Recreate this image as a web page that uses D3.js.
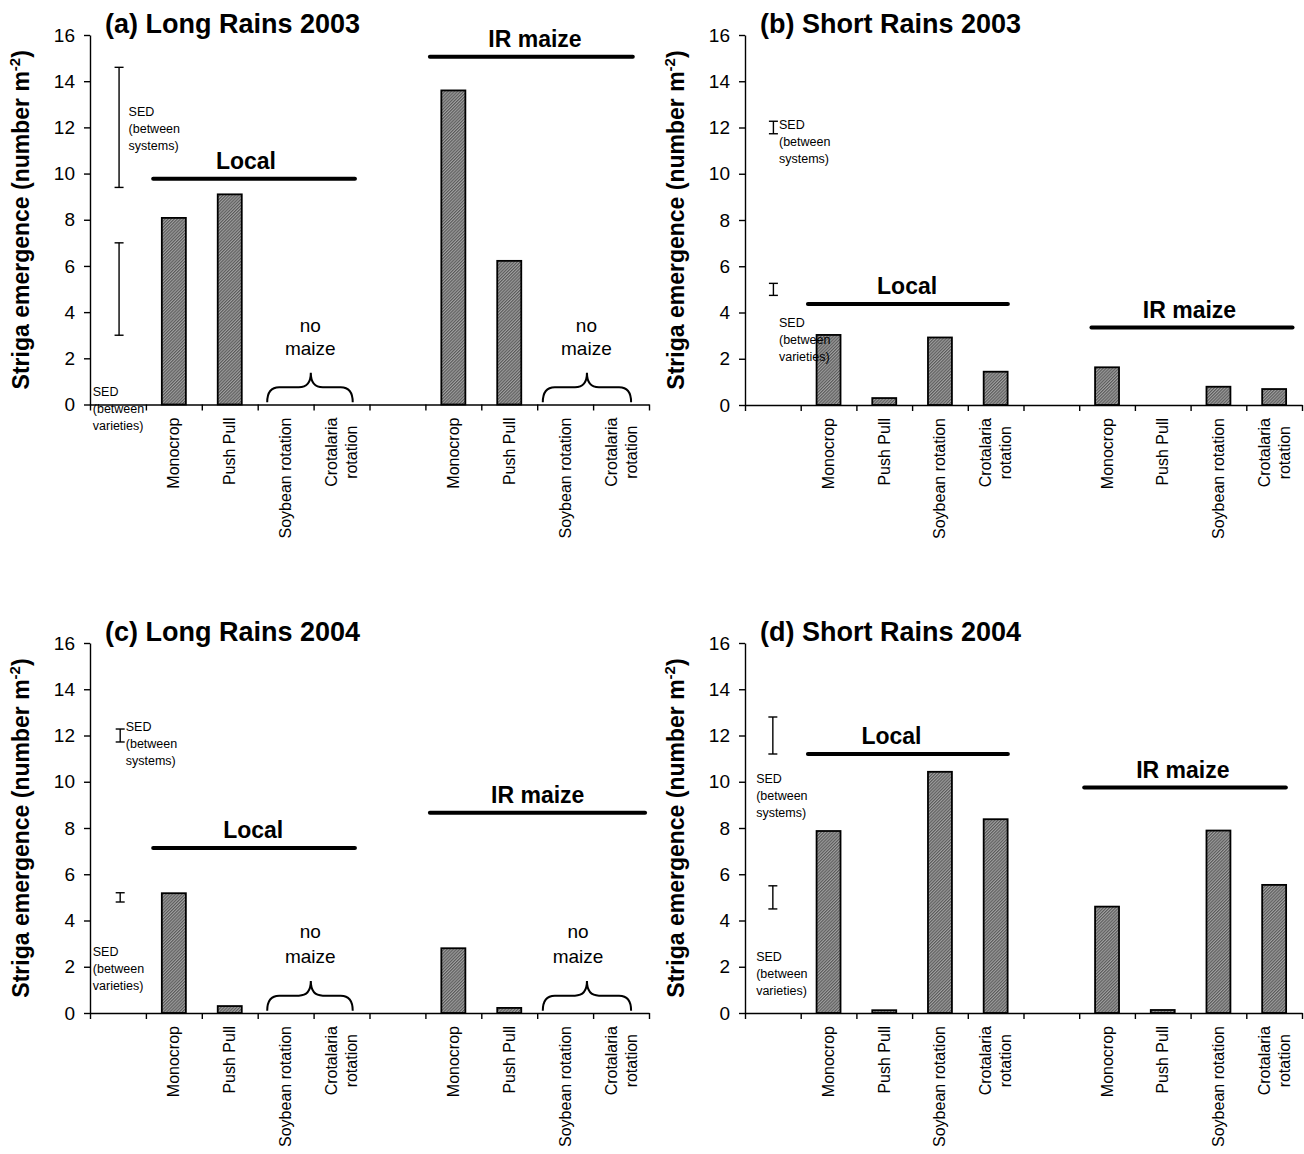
<!DOCTYPE html>
<html><head><meta charset="utf-8">
<script src="https://cdn.jsdelivr.net/npm/d3@7"></script>
<style>
body{margin:0;background:#fff}
svg{display:block}
text{font-family:"Liberation Sans",Arial,Helvetica,sans-serif;fill:#000}
</style>
</head><body><svg id="chart" width="1304" height="1154"></svg>
<script>
// ---------- data ----------
const categories = ["gap1","Monocrop","Push Pull","Soybean rotation","Crotalaria rotation",
                    "gap2","Monocrop ","Push Pull ","Soybean rotation ","Crotalaria rotation "];
const tickLabels = [[],["Monocrop"],["Push Pull"],["Soybean rotation"],["Crotalaria","rotation"],
                    [],["Monocrop"],["Push Pull"],["Soybean rotation"],["Crotalaria","rotation"]];
const yTicks = [0,2,4,6,8,10,12,14,16];
const panelTitles = ["(a) Long Rains 2003","(b) Short Rains 2003","(c) Long Rains 2004","(d) Short Rains 2004"];
const groupNames = ["Local","IR maize"];
// Monocrop, Push Pull, Soybean rotation, Crotalaria rotation
const localValues = [
  [8.08, 9.1, null, null],
  [3.03, 0.3, 2.92, 1.44],
  [5.18, 0.3, null, null],
  [7.87, 0.12, 10.43, 8.38]
];
const irValues = [
  [13.6, 6.22, null, null],
  [1.63, null, 0.79, 0.69],
  [2.8, 0.22, null, null],
  [4.6, 0.13, 7.89, 5.54]
];
const sedSystemsHalf = [2.6, 0.27, 0.28, 0.8];
const sedVarietiesHalf = [2.0, 0.26, 0.2, 0.5];
const sedSystemsCentre = 12;
const sedVarietiesCentre = 5;
const sedSystemsText = ["SED","(between","systems)"];
const sedVarietiesText = ["SED","(between","varieties)"];
const noMaizeText = ["no","maize"];
const noMaizePanels = [true,false,true,false];

// ---------- layout (positions only) ----------
const layout = [
 {x:90, y:35, w:559, h:369.5,
  lines:[{v:9.77,u0:1.13,u1:4.74,tu:2.79},{v:15.06,u0:6.08,u1:9.71,tu:7.96}],
  sedU:0.52, sysTxt:{u:0.69,v:12.66}, varTxt:{u:0.05,v:0.56},
  braces:[{u0:3.17,u1:4.70,uc:3.95,tu:3.94},{u0:8.10,u1:9.68,uc:8.89,tu:8.88}], nmV:[3.43,2.43]},
 {x:745, y:35, w:557, h:370,
  lines:[{v:4.37,u0:1.13,u1:4.72,tu:2.91},{v:3.35,u0:6.22,u1:9.83,tu:7.98}],
  sedU:0.51, sysTxt:{u:0.61,v:12.12}, varTxt:{u:0.61,v:3.55}},
 {x:90, y:643, w:559, h:370,
  lines:[{v:7.13,u0:1.13,u1:4.74,tu:2.92},{v:8.66,u0:6.08,u1:9.93,tu:8.01}],
  sedU:0.54, sysTxt:{u:0.64,v:12.37}, varTxt:{u:0.05,v:2.64},
  braces:[{u0:3.17,u1:4.70,uc:3.95,tu:3.94},{u0:8.10,u1:9.68,uc:8.89,tu:8.73}], nmV:[3.52,2.44]},
 {x:745, y:643, w:557, h:370,
  lines:[{v:11.2,u0:1.13,u1:4.72,tu:2.63},{v:9.75,u0:6.09,u1:9.71,tu:7.86}],
  sedU:0.50, sysTxt:{u:0.2,v:10.1}, varTxt:{u:0.2,v:2.44}}
];

const svg = d3.select("#chart");
const defs = svg.append("defs");
const pat = defs.append("pattern").attr("id","hatch").attr("patternUnits","userSpaceOnUse")
  .attr("width",2.2).attr("height",2.2).attr("patternTransform","rotate(45)");
pat.append("rect").attr("width",2.2).attr("height",2.2).attr("fill","#a0a0a0");
pat.append("rect").attr("width",1.1).attr("height",2.2).attr("fill","#5a5a5a");

layout.forEach((L, p) => {
  const g = svg.append("g").attr("transform",`translate(${L.x},${L.y})`);
  const x = d3.scaleBand().domain(categories).range([0, L.w]).padding(0);
  const u = d3.scaleLinear().domain([0,10]).range([0, L.w]);
  const y = d3.scaleLinear().domain([0,16]).range([L.h, 0]);
  const bw = x.bandwidth()*0.43;

  // bars
  const barData = [];
  localValues[p].forEach((v,i)=>{ if(v!=null) barData.push({c:categories[1+i], v}); });
  irValues[p].forEach((v,i)=>{ if(v!=null) barData.push({c:categories[6+i], v}); });
  g.selectAll("rect.bar").data(barData).join("rect").attr("class","bar")
    .attr("x", d => x(d.c) + (x.bandwidth()-bw)/2)
    .attr("width", bw)
    .attr("y", d => y(d.v))
    .attr("height", d => y(0)-y(d.v))
    .attr("fill","url(#hatch)").attr("stroke","#000").attr("stroke-width",1.8);

  // y axis
  const ya = g.append("g").call(d3.axisLeft(y).tickValues(yTicks).tickSize(6).tickSizeOuter(0).tickPadding(9));
  ya.selectAll("path,line").attr("stroke","#000").attr("stroke-width",1.4);
  ya.selectAll("text").style("font-size","19px").style("font-family",'"Liberation Sans",Arial,sans-serif');

  // x axis
  const xa = g.append("g").attr("transform",`translate(0,${L.h})`)
    .call(d3.axisBottom(u).tickValues(d3.range(11)).tickFormat("").tickSize(6).tickSizeOuter(0));
  xa.selectAll("path,line").attr("stroke","#000").attr("stroke-width",1.4);

  // x labels
  categories.forEach((c,i)=>{
    const lines = tickLabels[i];
    if(!lines.length) return;
    const cx = x(c) + x.bandwidth()/2;
    const tmp = g.append("g");
    const texts = lines.map((t,k)=> tmp.append("text").text(t).style("font-size","16px")
        .attr("text-anchor","middle").attr("dominant-baseline","central"));
    const maxLen = d3.max(texts, t => t.node().getComputedTextLength());
    const n = lines.length, ls = 20;
    texts.forEach((t,k)=>{
      const dx = (k-(n-1)/2)*ls;
      t.attr("transform",`translate(${cx+dx},${L.h+13+maxLen/2}) rotate(-90)`);
    });
  });

  // y title
  const yt = g.append("text").attr("text-anchor","middle")
    .attr("transform",`translate(${-61},${L.h/2}) rotate(-90)`)
    .style("font-size","23px").style("font-weight","bold");
  yt.append("tspan").text("Striga emergence (number m");
  yt.append("tspan").text("-2").style("font-size","15px").attr("dy",-9);
  yt.append("tspan").text(")").attr("dy",9);

  // title
  g.append("text").text(panelTitles[p]).attr("x",15).attr("y",-2)
    .style("font-size","27px").style("font-weight","bold");

  // group lines and labels
  L.lines.forEach((ln,k)=>{
    g.append("line").attr("x1",u(ln.u0)).attr("x2",u(ln.u1)).attr("y1",y(ln.v)).attr("y2",y(ln.v))
      .attr("stroke","#000").attr("stroke-width",4).attr("stroke-linecap","round");
    g.append("text").text(groupNames[k]).attr("x",u(ln.tu)).attr("y",y(ln.v)-10)
      .attr("text-anchor","middle").style("font-size","23px").style("font-weight","bold");
  });

  // SED error bars
  const sed = [[sedSystemsCentre, sedSystemsHalf[p]],[sedVarietiesCentre, sedVarietiesHalf[p]]];
  sed.forEach(([c,h])=>{
    const sx = u(L.sedU);
    const eg = g.append("g").attr("stroke","#000").attr("stroke-width",1.4);
    eg.append("line").attr("x1",sx).attr("x2",sx).attr("y1",y(c+h)).attr("y2",y(c-h));
    eg.append("line").attr("x1",sx-4.5).attr("x2",sx+4.5).attr("y1",y(c+h)).attr("y2",y(c+h));
    eg.append("line").attr("x1",sx-4.5).attr("x2",sx+4.5).attr("y1",y(c-h)).attr("y2",y(c-h));
  });
  [[L.sysTxt, sedSystemsText],[L.varTxt, sedVarietiesText]].forEach(([pos, lines])=>{
    lines.forEach((t,k)=>{
      g.append("text").text(t).attr("x",u(pos.u)).attr("y",y(pos.v)+k*17)
        .attr("dominant-baseline","central").style("font-size","12.5px");
    });
  });

  // no maize braces
  if(noMaizePanels[p]){
    L.braces.forEach(b=>{
      const x0=u(b.u0), x1=u(b.u1), xc=u(b.uc);
      const yE=y(0.1), yM=y(0.75), yT=y(1.38), r=12;
      const path = d3.path();
      path.moveTo(x0,yE);
      path.quadraticCurveTo(x0,yM,x0+r,yM);
      path.lineTo(xc-r,yM);
      path.quadraticCurveTo(xc,yM,xc,yT);
      path.quadraticCurveTo(xc,yM,xc+r,yM);
      path.lineTo(x1-r,yM);
      path.quadraticCurveTo(x1,yM,x1,yE);
      g.append("path").attr("d",path.toString()).attr("fill","none").attr("stroke","#000").attr("stroke-width",2);
      noMaizeText.forEach((t,k)=>{
        g.append("text").text(t).attr("x",u(b.tu)).attr("y",y(L.nmV[k]))
          .attr("text-anchor","middle").attr("dominant-baseline","central").style("font-size","19px");
      });
    });
  }
});
</script>
</body></html>
